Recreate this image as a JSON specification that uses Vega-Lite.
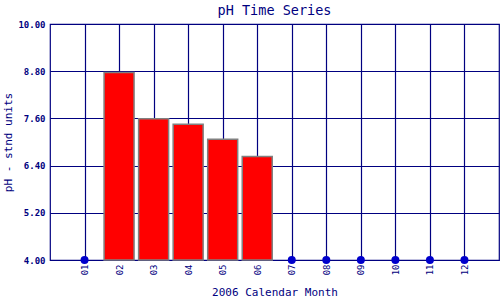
{
  "$schema": "https://vega.github.io/schema/vega-lite/v6.json",
  "autosize": "none",
  "width": 449,
  "height": 236,
  "padding": {"left": 50, "top": 24, "right": 1, "bottom": 40},
  "background": "white",
  "title": {"text": "pH Time Series", "font": "DejaVu Sans Mono", "fontSize": 13.5, "fontWeight": "normal", "color": "#000080", "offset": 3},
  "config": {"view": {"stroke": "#000080", "strokeWidth": 1.2}},
  "data": {"values": [
    {"month": 1, "ph": null},
    {"month": 2, "ph": 8.77},
    {"month": 3, "ph": 7.59},
    {"month": 4, "ph": 7.45},
    {"month": 5, "ph": 7.07},
    {"month": 6, "ph": 6.63},
    {"month": 7, "ph": null},
    {"month": 8, "ph": null},
    {"month": 9, "ph": null},
    {"month": 10, "ph": null},
    {"month": 11, "ph": null},
    {"month": 12, "ph": null}
  ]},
  "encoding": {
    "x": {"field": "month", "type": "quantitative", "scale": {"domain": [0, 13], "nice": false, "zero": false, "padding": 0},
      "axis": {"values": [1,2,3,4,5,6,7,8,9,10,11,12], "format": "02d", "labelAngle": 270, "labelFont": "DejaVu Sans Mono", "labelFontSize": 9, "labelColor": "#000080", "labelPadding": 4, "ticks": false, "domain": false, "grid": true, "gridColor": "#000080", "gridOpacity": 1, "gridWidth": 1.2,
        "title": "2006 Calendar Month", "titleFont": "DejaVu Sans Mono", "titleFontSize": 11, "titleFontWeight": "normal", "titleColor": "#000080", "titlePadding": 12}}
  },
  "layer": [
    {
      "transform": [{"filter": "datum.ph != null"}],
      "mark": {"type": "bar", "size": 30, "color": "#ff0000", "stroke": "#808080", "strokeWidth": 1.5},
      "encoding": {
        "y": {"field": "ph", "type": "quantitative", "scale": {"domain": [4, 10], "zero": false, "nice": false},
          "axis": {"values": [4, 5.2, 6.4, 7.6, 8.8, 10], "format": ".2f", "labelFont": "DejaVu Sans Mono", "labelFontSize": 9, "labelFontWeight": "bold", "labelColor": "#000080", "labelPadding": 5, "ticks": false, "domain": false, "grid": true, "gridColor": "#000080", "gridOpacity": 1, "gridWidth": 1.2,
            "title": "pH - stnd units", "titleFont": "DejaVu Sans Mono", "titleFontSize": 11, "titleFontWeight": "normal", "titleColor": "#000080", "titlePadding": 4}},
        "y2": {"datum": 4}
      }
    },
    {
      "transform": [{"filter": "datum.ph == null"}],
      "mark": {"type": "point", "filled": true, "size": 64, "color": "#0000cc", "opacity": 1},
      "encoding": {
        "y": {"datum": 4}
      }
    }
  ]
}
